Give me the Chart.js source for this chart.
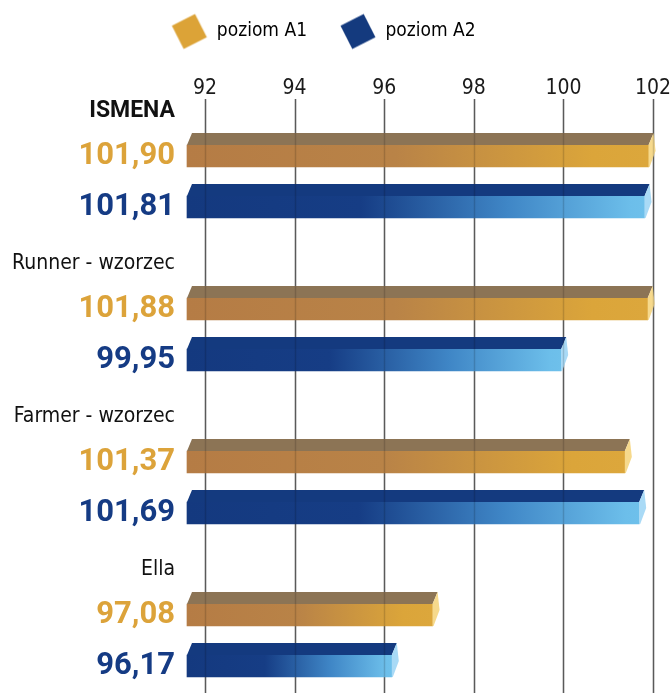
<!DOCTYPE html>
<html>
<head>
<meta charset="utf-8">
<script src="https://cdn.jsdelivr.net/npm/chart.js@4.4.0/dist/chart.umd.min.js"></script>
<style>
  html, body { margin: 0; padding: 0; background: #fff; }
  #wrap { width: 671px; height: 693px; }
</style>
</head>
<body>
<div id="wrap"><canvas id="mainChart"></canvas></div>
<script>
// Data
const categories = ["ISMENA", "Runner - wzorzec", "Farmer - wzorzec", "Ella"];
const levelA1 = [101.90, 101.88, 101.37, 97.08];
const levelA2 = [101.81, 99.95, 101.69, 96.17];
const seriesNames = ["poziom A1", "poziom A2"];
const xTicks = [92, 94, 96, 98, 100, 102];
const xMin = 91.6;
const xMax = 102.4;

const FONT = "'DejaVu Sans Condensed', sans-serif";
const BOLD = "Roboto, 'DejaVu Sans Condensed', sans-serif";
const gold = "#DCA33A";
const navy = "#153B84";

// three rows per variety: name, A1 value, A2 value
let rowLabels = [];
let rowKind = [];
let rowA1 = [];
let rowA2 = [];
let fmt = (v) => v.toFixed(2).replace(".", ",");
categories.forEach((name, i) => {
  rowLabels.push(["", name]);
  rowKind.push("name");
  rowA1.push(null);
  rowA2.push(null);

  rowLabels.push(fmt(levelA1[i]));
  rowKind.push("a1");
  rowA1.push(levelA1[i]);
  rowA2.push(null);

  rowLabels.push(fmt(levelA2[i]));
  rowKind.push("a2");
  rowA1.push(null);
  rowA2.push(levelA2[i]);
});

// tilted square used as legend marker
let makeMarker = (color) => {
  const c = document.createElement("canvas");
  c.width = 38;
  c.height = 38;
  const g = c.getContext("2d");
  g.translate(19, 19);
  g.rotate((63 * Math.PI) / 180);
  g.fillStyle = color;
  g.fillRect(-13, -13, 26, 26);
  return c;
};
const markers = [makeMarker("#DCA337"), makeMarker("#143A7E")];

// horizontal gradient running from the bar base to its end
let makeGradient = (stops) => (context) => {
  const chart = context.chart;
  const area = chart.chartArea;
  if (!area || context.raw == null) return stops[0][1];
  const end = chart.scales.x.getPixelForValue(context.raw);
  const g = chart.ctx.createLinearGradient(area.left, 0, end, 0);
  stops.forEach((s) => g.addColorStop(s[0], s[1]));
  return g;
};

function drawGrid(chart, color) {
  const ctx = chart.ctx;
  const xs = chart.scales.x;
  ctx.save();
  ctx.strokeStyle = color;
  ctx.lineWidth = 1.5;
  xs.ticks.forEach((t) => {
    const px = Math.round(xs.getPixelForValue(t.value)) + 0.5;
    ctx.beginPath();
    ctx.moveTo(px, chart.chartArea.top - 6);
    ctx.lineTo(px, chart.height);
    ctx.stroke();
  });
  ctx.restore();
}

// top face and end cap of the "3D" bars
const barFaces = {
  id: "barFaces",
  beforeDatasetsDraw(chart) {
    drawGrid(chart, "#6a6a6a");
  },
  afterDatasetsDraw(chart) {
    const ctx = chart.ctx;
    chart.data.datasets.forEach((ds, di) => {
      const meta = chart.getDatasetMeta(di);
      meta.data.forEach((bar, i) => {
        if (ds.data[i] == null) return;
        const { x, y, base, height } = bar.getProps(["x", "y", "base", "height"], true);
        const top = y - height / 2;
        const bottom = y + height / 2;
        ctx.save();
        ctx.fillStyle = ds.topColor;
        ctx.beginPath();
        ctx.moveTo(base, top);
        ctx.lineTo(base + 5, top - 12);
        ctx.lineTo(x + 5, top - 12);
        ctx.lineTo(x, top);
        ctx.closePath();
        ctx.fill();
        ctx.fillStyle = ds.capColor;
        ctx.beginPath();
        ctx.moveTo(x, top);
        ctx.lineTo(x + 5, top - 12);
        ctx.lineTo(x + 7, top + 6);
        ctx.lineTo(x + 1, bottom);
        ctx.lineTo(x, bottom);
        ctx.closePath();
        ctx.fill();
        ctx.restore();
      });
    });
    drawGrid(chart, "rgba(0,0,0,0.15)");
  },
};

// room between legend and the top axis
const legendSpace = {
  id: "legendSpace",
  beforeInit(chart) {
    const fit = chart.legend.fit;
    chart.legend.fit = function () {
      fit.call(this);
      this.height = 83;
    };
  },
  afterLayout(chart) {
    chart.legend.left -= 24;
  },
};

const config = {
  type: "bar",
  data: {
    labels: rowLabels,
    datasets: [
      {
        label: seriesNames[0],
        data: rowA1,
        backgroundColor: makeGradient([[0, "#B57C45"], [0.45, "#B98347"], [0.88, "#DBA53A"], [1, "#DCA73C"]]),
        topColor: "#8C7455",
        capColor: "#F6D98C",
      },
      {
        label: seriesNames[1],
        data: rowA2,
        backgroundColor: makeGradient([[0, "#14397F"], [0.38, "#163D85"], [0.7, "#3F86C6"], [0.97, "#6CBEEA"], [1, "#6EC0EB"]]),
        topColor: "#143A7F",
        capColor: "#A9DAF6",
      },
    ],
  },
  options: {
    indexAxis: "y",
    responsive: true,
    maintainAspectRatio: false,
    animation: false,
    layout: { padding: { top: -11, bottom: 27, left: 0, right: 0 } },
    datasets: {
      bar: { grouped: false, barThickness: 22, borderWidth: 0, clip: false, base: xMin },
    },
    scales: {
      x: {
        type: "linear",
        position: "top",
        min: xMin,
        max: xMax,
        afterBuildTicks: (scale) => {
          scale.ticks = xTicks.map((v) => ({ value: v }));
        },
        afterFit: (scale) => {
          scale.paddingLeft = 0;
          scale.paddingRight = 0;
        },
        grid: { display: false, drawTicks: false },
        border: { display: false },
        ticks: {
          padding: 6,
          color: "#1a1a1a",
          font: { family: FONT, size: 21, lineHeight: 1 },
        },
      },
      y: {
        type: "category",
        offset: false,
        grid: { display: false, drawTicks: false },
        border: { display: false },
        afterFit: (scale) => {
          scale.width = 187;
        },
        ticks: {
          padding: 12,
          autoSkip: false,
          color: (c) => (rowKind[c.index] === "a1" ? gold : rowKind[c.index] === "a2" ? navy : "#111"),
          font: (c) => {
            const kind = rowKind[c.index];
            if (kind === "name") {
              if (c.index === 0) return { family: BOLD, size: 23, weight: "bold", lineHeight: "12px" };
              return { family: FONT, size: 21, weight: "normal", lineHeight: "12px" };
            }
            return { family: BOLD, size: 31, weight: "bold", lineHeight: 1 };
          },
        },
      },
    },
    plugins: {
      tooltip: { enabled: false },
      legend: {
        position: "top",
        labels: {
          usePointStyle: true,
          pointStyleWidth: 36,
          padding: 33,
          color: "#1a1a1a",
          font: { family: FONT, size: 19 },
          generateLabels: () =>
            seriesNames.map((name, i) => ({
              text: name,
              fillStyle: [gold, navy][i],
              strokeStyle: [gold, navy][i],
              lineWidth: 0,
              pointStyle: markers[i],
              datasetIndex: i,
            })),
        },
      },
    },
  },
  plugins: [barFaces, legendSpace],
};

let mainChart = new Chart(document.getElementById("mainChart"), config);
</script>
</body>
</html>
